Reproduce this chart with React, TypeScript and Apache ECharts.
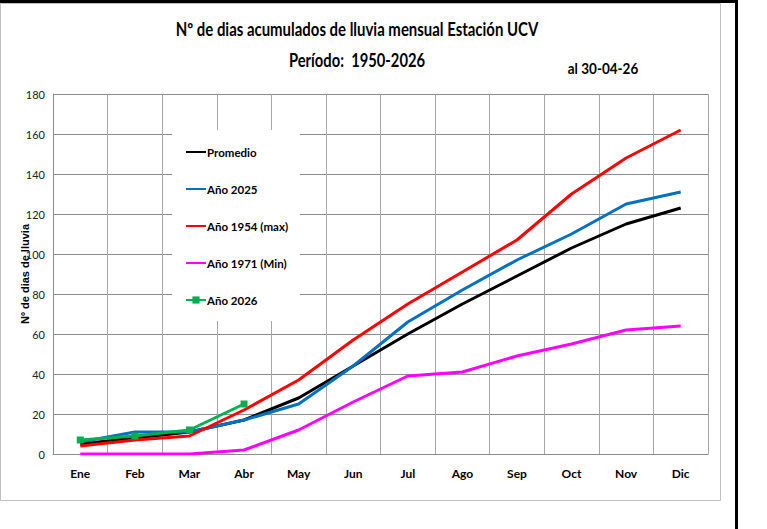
import React, { useEffect, useRef } from "react";
import * as echarts from "echarts";

const months = ["Ene", "Feb", "Mar", "Abr", "May", "Jun", "Jul", "Ago", "Sep", "Oct", "Nov", "Dic"];
const promedio = [5, 8, 11, 17, 28, 44, 60, 75, 89, 103, 115, 123];
const anio2025 = [6, 11, 11, 17, 25, 44, 66, 82, 97, 110, 125, 131];
const anio1954 = [4, 7, 9, 22, 37, 57, 75, 91, 107, 130, 148, 162];
const anio1971 = [0, 0, 0, 2, 12, 26, 39, 41, 49, 55, 62, 64];
const anio2026 = [7, 9, 12, 25];

const FONT = "Lato, 'Liberation Sans', sans-serif";

export default function App() {
  const ref = useRef<HTMLDivElement>(null);
  useEffect(() => {
    const chart = echarts.init(ref.current!, null, { renderer: "svg" });
    const lineSeries = (name: string, data: number[], color: string) => ({
      name,
      type: "line",
      data,
      symbol: "none",
      lineStyle: { color, width: 3 },
      itemStyle: { color },
      z: 3,
    });
    const legendLine = (name: string) => ({ name, itemStyle: { opacity: 0 } });
    const titleText = (text: string, x: number, y: number, size: number, sx: number) => ({
      type: "text",
      x,
      y,
      scaleX: sx,
      z: 10,
      style: {
        text,
        textAlign: "center",
        textVerticalAlign: "middle",
        fill: "#000",
        font: `bold ${size}px ${FONT}`,
      },
    });
    chart.setOption({
      animation: false,
      backgroundColor: "#fff",
      textStyle: { fontFamily: FONT },
      graphic: [
        {
          type: "rect",
          shape: { x: 0.5, y: 3.5, width: 720, height: 497 },
          style: { fill: "none", stroke: "#bfbfbf", lineWidth: 1 },
          z: -10,
        },
        {
          type: "line",
          shape: { x1: 0, y1: 1.5, x2: 738, y2: 1.5 },
          style: { stroke: "#000", lineWidth: 3 },
        },
        {
          type: "line",
          shape: { x1: 736.5, y1: 0, x2: 736.5, y2: 529 },
          style: { stroke: "#000", lineWidth: 3 },
        },
        titleText("Nº de dias acumulados de lluvia mensual Estación UCV", 357, 29, 18, 0.83),
        titleText("Período:  1950-2026", 357, 60, 18, 0.82),
        titleText("al 30-04-26", 603, 68, 15, 0.9),
      ],
      legend: {
        orient: "vertical",
        left: 172,
        top: 130,
        padding: [16, 12, 15, 13],
        itemGap: 25,
        itemWidth: 20,
        itemHeight: 9,
        backgroundColor: "#fff",
        textStyle: { fontFamily: FONT, fontWeight: "bold", fontSize: 11.5, color: "#000", padding: [0, 0, 0, -4] },
        data: [
          legendLine("Promedio"),
          legendLine("Año 2025"),
          legendLine("Año 1954 (max)"),
          legendLine("Año 1971 (Min)"),
          { name: "Año 2026" },
        ],
      },
      grid: { left: 53, top: 94, width: 655, height: 360, containLabel: false },
      xAxis: {
        type: "category",
        data: months,
        boundaryGap: true,
        axisLine: { lineStyle: { color: "#8c8c8c", width: 1 } },
        axisTick: { show: false },
        axisLabel: { fontFamily: FONT, fontWeight: "bold", fontSize: 12, color: "#000", margin: 13 },
        splitLine: { show: true, interval: 0, lineStyle: { color: "#a6a6a6", width: 1 } },
      },
      yAxis: {
        type: "value",
        min: 0,
        max: 180,
        interval: 20,
        name: "Nº de dias de lluvia",
        nameLocation: "middle",
        nameGap: 23,
        nameMoveOverlap: false,
        nameTextStyle: { fontFamily: "'Liberation Sans', Arial, sans-serif", fontWeight: "bold", fontSize: 11, color: "#000" },
        axisLine: { show: true, lineStyle: { color: "#8c8c8c", width: 1 } },
        axisTick: { show: false },
        axisLabel: { fontFamily: FONT, fontSize: 11, color: "#222", margin: 8 },
        splitLine: { show: true, lineStyle: { color: "#8c8c8c", width: 1 } },
      },
      series: [
        lineSeries("Promedio", promedio, "#000000"),
        lineSeries("Año 2025", anio2025, "#0070c0"),
        lineSeries("Año 1954 (max)", anio1954, "#ff0000"),
        lineSeries("Año 1971 (Min)", anio1971, "#ff00ff"),
        {
          name: "Año 2026",
          type: "line",
          data: anio2026,
          symbol: "rect",
          symbolSize: 7,
          lineStyle: { color: "#00b050", width: 3 },
          itemStyle: { color: "#00b050" },
          z: 4,
        },
      ],
    });
    return () => chart.dispose();
  }, []);
  return (
    <div
      ref={ref}
      style={{ position: "absolute", left: 0, top: 0, width: 767, height: 529 }}
    />
  );
}
